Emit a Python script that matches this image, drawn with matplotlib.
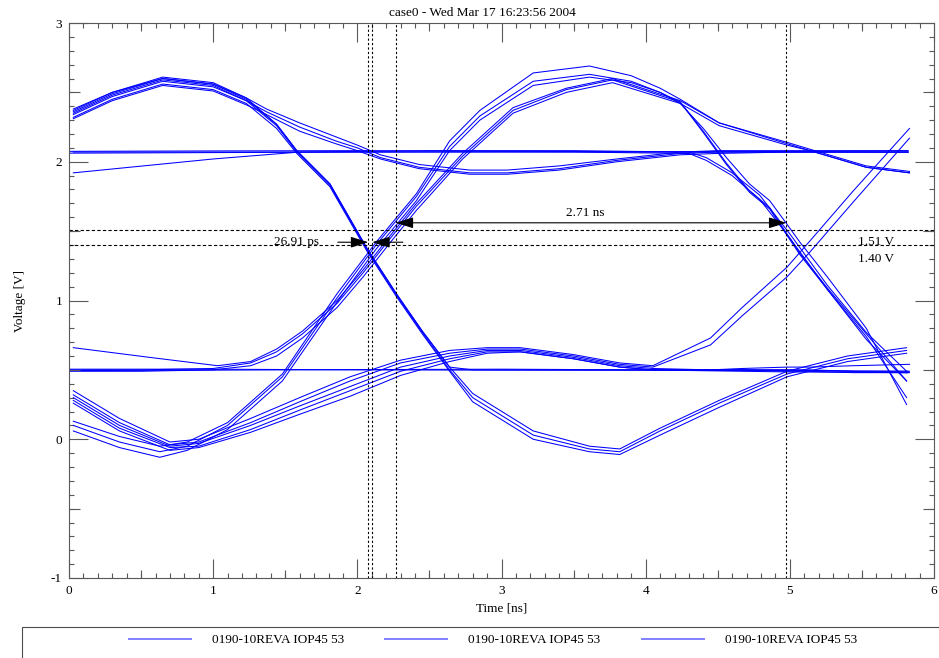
import matplotlib
matplotlib.use("Agg")
import matplotlib.pyplot as plt
from matplotlib.ticker import MultipleLocator, FuncFormatter
from matplotlib.patches import Rectangle
from matplotlib.lines import Line2D

plt.rcParams['font.family'] = ['Liberation Serif', 'DejaVu Serif']

# ---- waveform data (time in ns, voltage in V) ----
t_flat = [0.0, 1.0, 2.0, 3.0, 4.0, 5.0, 5.82]
v_hi_flat_a = [2.075, 2.078, 2.080, 2.076, 2.072, 2.070, 2.068]
v_hi_flat_b = [2.062, 2.066, 2.070, 2.072, 2.070, 2.074, 2.078]
v_lo_flat_a = [0.505, 0.505, 0.500, 0.498, 0.497, 0.495, 0.490]
v_lo_flat_b = [0.495, 0.498, 0.502, 0.505, 0.500, 0.485, 0.480]

t_hi_fall = [0.03, 1.0, 1.6, 2.5, 3.5, 4.3, 4.42, 4.6, 4.79, 5.0, 5.26, 5.53, 5.81]
v_hi_fall_a = [1.92, 2.02, 2.07, 2.08, 2.08, 2.07, 2.03, 1.92, 1.76, 1.48, 1.11, 0.77, 0.49]
v_hi_fall_b = [2.07, 2.07, 2.07, 2.07, 2.07, 2.06, 2.01, 1.90, 1.73, 1.45, 1.08, 0.72, 0.42]

t_hump1_fall = [0.03, 0.3, 0.65, 1.0, 1.23, 1.44, 1.58, 1.81, 2.07, 2.27, 2.45,
                2.64, 2.8, 3.22, 3.61, 3.82, 4.1, 4.51, 4.98, 5.4, 5.81]
v_hump1_fall_a = [2.38, 2.50, 2.61, 2.57, 2.46, 2.27, 2.08, 1.84, 1.37, 1.05, 0.78,
                  0.52, 0.33, 0.06, -0.05, -0.07, 0.08, 0.28, 0.49, 0.60, 0.66]
v_hump1_fall_b = [2.35, 2.48, 2.59, 2.55, 2.44, 2.26, 2.07, 1.83, 1.36, 1.04, 0.77,
                  0.50, 0.30, 0.03, -0.07, -0.09, 0.06, 0.26, 0.47, 0.58, 0.64]
v_hump1_fall_c = [2.32, 2.45, 2.56, 2.52, 2.42, 2.24, 2.06, 1.82, 1.35, 1.03, 0.76,
                  0.49, 0.27, 0.00, -0.09, -0.11, 0.03, 0.23, 0.45, 0.56, 0.62]
v_hump1_settle = [2.36, 2.49, 2.60, 2.56, 2.45, 2.27, 2.08, 1.84, 1.37, 1.05, 0.78,
                  0.52, 0.50, 0.50, 0.50, 0.50, 0.50, 0.50, 0.50, 0.49, 0.48]

t_hump1_gentle = [0.03, 0.3, 0.65, 1.0, 1.23, 1.37, 1.6, 1.85, 2.0, 2.16, 2.43,
                  2.78, 3.04, 3.4, 3.8, 4.24, 4.5, 5.0, 5.82]
v_hump1_gentle_a = [2.37, 2.50, 2.60, 2.56, 2.46, 2.38, 2.28, 2.18, 2.12, 2.05, 1.98,
                    1.94, 1.94, 1.97, 2.02, 2.07, 2.08, 2.08, 2.08]
v_hump1_gentle_b = [2.34, 2.47, 2.58, 2.54, 2.44, 2.36, 2.25, 2.15, 2.10, 2.03, 1.96,
                    1.92, 1.92, 1.95, 2.01, 2.06, 2.07, 2.07, 2.07]
v_hump1_gentle_c = [2.31, 2.44, 2.55, 2.51, 2.41, 2.34, 2.22, 2.13, 2.08, 2.02, 1.95,
                    1.91, 1.91, 1.94, 2.00, 2.05, 2.06, 2.07, 2.07]

t_trough_steep = [0.03, 0.35, 0.63, 0.82, 1.1, 1.48, 1.86, 2.13, 2.41, 2.64, 2.85,
                  3.22, 3.61, 3.9, 4.1, 4.24, 4.51, 4.98, 5.14, 5.53, 5.83]
v_trough_steep_a = [0.13, 0.02, -0.05, -0.02, 0.12, 0.47, 1.05, 1.42, 1.77, 2.15, 2.37,
                    2.64, 2.69, 2.62, 2.53, 2.45, 2.28, 2.14, 2.09, 1.97, 1.93]
v_trough_steep_b = [0.10, -0.02, -0.09, -0.05, 0.10, 0.45, 1.02, 1.40, 1.75, 2.11, 2.33,
                    2.58, 2.63, 2.58, 2.50, 2.42, 2.26, 2.12, 2.08, 1.96, 1.92]
t_trough_steep_c = [0.03, 0.35, 0.63, 0.82, 1.1, 1.48, 1.86, 2.13, 2.41, 2.64, 2.85,
                    3.22, 3.61, 3.9, 4.1, 4.24, 4.4, 4.56, 4.72, 4.86, 4.98, 5.07,
                    5.26, 5.53, 5.81]
v_trough_steep_c = [0.06, -0.06, -0.13, -0.08, 0.07, 0.42, 0.99, 1.37, 1.72, 2.08, 2.30,
                    2.55, 2.61, 2.57, 2.50, 2.43, 2.21, 1.98, 1.78, 1.66, 1.47, 1.33,
                    1.08, 0.74, 0.30]

t_low_start = [0.03, 0.56, 1.03, 1.26, 1.44, 1.62, 1.86, 2.04, 2.23, 2.41, 2.73,
               3.08, 3.45, 3.77, 4.24, 4.51, 4.98, 5.14, 5.53, 5.83]
v_low_start = [0.66, 0.59, 0.53, 0.56, 0.65, 0.78, 1.00, 1.22, 1.47, 1.70, 2.06,
               2.39, 2.53, 2.60, 2.44, 2.28, 2.13, 2.08, 1.96, 1.92]

t_lo_leave = [0.0, 0.5, 1.0, 1.26, 1.44, 1.62, 1.86, 2.04, 2.23, 2.41, 2.73, 3.08,
              3.45, 3.77, 4.24, 4.4, 4.56, 4.72, 4.86, 4.98, 5.07, 5.26, 5.53, 5.81]
v_lo_leave_a = [0.50, 0.50, 0.51, 0.55, 0.63, 0.76, 0.98, 1.20, 1.45, 1.68, 2.04, 2.37,
                2.52, 2.59, 2.43, 2.22, 1.99, 1.79, 1.67, 1.48, 1.34, 1.09, 0.76, 0.42]
v_lo_leave_b = [0.49, 0.49, 0.50, 0.53, 0.60, 0.73, 0.95, 1.17, 1.42, 1.65, 2.02, 2.35,
                2.50, 2.57, 2.42, 2.24, 2.03, 1.84, 1.72, 1.55, 1.42, 1.17, 0.80, 0.25]

t_trough_slow = [0.03, 0.35, 0.70, 0.90, 1.26, 1.6, 1.95, 2.3, 2.64, 2.9, 3.13,
                 3.5, 3.82, 4.05, 4.45, 4.67, 4.98, 5.14, 5.44, 5.83]
v_trough_slow_a = [0.35, 0.15, -0.02, 0.00, 0.15, 0.30, 0.45, 0.57, 0.64, 0.66, 0.66,
                   0.61, 0.55, 0.53, 0.73, 0.95, 1.24, 1.43, 1.79, 2.24]
v_trough_slow_b = [0.32, 0.12, -0.04, -0.02, 0.12, 0.27, 0.42, 0.55, 0.62, 0.65, 0.65,
                   0.60, 0.54, 0.52, 0.68, 0.89, 1.17, 1.35, 1.71, 2.17]
v_trough_slow_c = [0.30, 0.10, -0.05, -0.03, 0.10, 0.24, 0.38, 0.52, 0.60, 0.64, 0.64,
                   0.59, 0.53, 0.51, 0.50, 0.50, 0.50, 0.50, 0.49, 0.49]
v_trough_slow_d = [0.28, 0.08, -0.06, -0.05, 0.07, 0.21, 0.35, 0.49, 0.58, 0.63, 0.63,
                   0.58, 0.52, 0.50, 0.50, 0.50, 0.49, 0.49, 0.48, 0.48]
v_trough_slow_e = [0.26, 0.06, -0.08, -0.06, 0.05, 0.18, 0.31, 0.46, 0.56, 0.62, 0.63,
                   0.58, 0.52, 0.50, 0.50, 0.51, 0.52, 0.52, 0.53, 0.54]

# cursor markers
cursor_t = [2.076, 2.103, 2.266, 4.976]
cursor_v = [1.51, 1.40]
legend_labels = ['0190-10REVA IOP45 53', '0190-10REVA IOP45 53', '0190-10REVA IOP45 53']

traces = [
    (t_flat, v_hi_flat_a), (t_flat, v_hi_flat_b), (t_flat, v_lo_flat_a), (t_flat, v_lo_flat_b),
    (t_hi_fall, v_hi_fall_a), (t_hi_fall, v_hi_fall_b),
    (t_hump1_fall, v_hump1_fall_a), (t_hump1_fall, v_hump1_fall_b),
    (t_hump1_fall, v_hump1_fall_c), (t_hump1_fall, v_hump1_settle),
    (t_hump1_gentle, v_hump1_gentle_a), (t_hump1_gentle, v_hump1_gentle_b),
    (t_hump1_gentle, v_hump1_gentle_c),
    (t_trough_steep, v_trough_steep_a), (t_trough_steep, v_trough_steep_b),
    (t_trough_steep_c, v_trough_steep_c),
    (t_low_start, v_low_start), (t_lo_leave, v_lo_leave_a), (t_lo_leave, v_lo_leave_b),
    (t_trough_slow, v_trough_slow_a), (t_trough_slow, v_trough_slow_b),
    (t_trough_slow, v_trough_slow_c), (t_trough_slow, v_trough_slow_d),
    (t_trough_slow, v_trough_slow_e),
]

W, H = 939, 658
FS = 9.5
fig = plt.figure(figsize=(W / 100, H / 100), dpi=100)
ax = fig.add_axes([69 / W, 1 - 578 / H, 865 / W, 555 / H])

for t, v in traces:
    ax.plot(t, v, color='#0000ff', lw=0.75)

for tc in cursor_t:
    ax.axvline(tc, color='black', lw=0.8, ls=(0, (2, 2)))
for vc in cursor_v:
    ax.axhline(vc, color='black', lw=0.8, ls=(0, (3, 2)))

# 26.91 ps arrows
head = dict(arrowstyle='-|>,head_length=0.9,head_width=0.28', color='black', lw=0.8,
            shrinkA=0, shrinkB=0, mutation_scale=12)
ax.annotate('', xy=(cursor_t[0], 1.42), xytext=(1.865, 1.42), arrowprops=head)
ax.annotate('', xy=(cursor_t[1], 1.42), xytext=(2.316, 1.42), arrowprops=head)
ax.text(1.578, 1.42, '26.91 ps', fontsize=FS, ha='center', va='center')

# 2.71 ns arrow
ax.annotate('', xy=(cursor_t[3], 1.56), xytext=(cursor_t[2], 1.56),
            arrowprops=dict(arrowstyle='<|-|>,head_length=0.9,head_width=0.28', color='black',
                            lw=0.8, shrinkA=0, shrinkB=0, mutation_scale=12))
ax.text(3.58, 1.63, '2.71 ns', fontsize=FS, ha='center', va='center')
ax.text(5.597, 1.42, '1.51 V', fontsize=FS, ha='center', va='center')
ax.text(5.597, 1.30, '1.40 V', fontsize=FS, ha='center', va='center')

ax.set_xlim(0, 6)
ax.set_ylim(-1, 3)
ax.xaxis.set_major_locator(MultipleLocator(1))
ax.yaxis.set_major_locator(MultipleLocator(1))
ax.xaxis.set_minor_locator(MultipleLocator(0.1))
ax.yaxis.set_minor_locator(MultipleLocator(0.1))
ax.xaxis.set_major_formatter(FuncFormatter(lambda x, p: '%d' % round(x)))
ax.yaxis.set_major_formatter(FuncFormatter(lambda x, p: '%d' % round(x)))
ax.tick_params(which='both', direction='in', top=True, right=True, color='0.35',
               labelsize=FS, width=0.8)
ax.tick_params(which='major', length=14)
ax.tick_params(which='minor', length=3.3)
ax.tick_params(axis='x', pad=5)
ax.tick_params(axis='y', pad=5)

# medium ticks at the half units
xt = ax.get_xaxis_transform()
yt = ax.get_yaxis_transform()
halves_x = [0.5, 1.5, 2.5, 3.5, 4.5, 5.5]
halves_y = [-0.5, 0.5, 1.5, 2.5]
ax.vlines(halves_x, 0, 0.015, transform=xt, color='0.35', lw=0.8, clip_on=False)
ax.vlines(halves_x, 0.985, 1, transform=xt, color='0.35', lw=0.8, clip_on=False)
ax.hlines(halves_y, 0, 0.0125, transform=yt, color='0.35', lw=0.8, clip_on=False)
ax.hlines(halves_y, 0.9875, 1, transform=yt, color='0.35', lw=0.8, clip_on=False)

for sp in ax.spines.values():
    sp.set_color('0.35')
    sp.set_linewidth(0.8)

ax.set_xlabel('Time [ns]', fontsize=FS)
ax.set_ylabel('Voltage [V]', fontsize=FS)
ax.xaxis.set_label_coords(0.5, -0.044)
ax.yaxis.set_label_coords(-0.050, 0.5)

fig.text(482 / W, 1 - 13 / H, 'case0 - Wed Mar 17 16:23:56 2004', fontsize=FS,
         ha='center', va='center')

# legend box running off the page
fig.add_artist(Rectangle((22 / W, -0.05), 1.0, 0.05 + 1 - 627 / H, transform=fig.transFigure,
                         fill=False, edgecolor='0.3', lw=0.8))
handles = [Line2D([], [], color='#8080ff', lw=1.4) for _ in legend_labels]
fig.legend(handles, legend_labels, ncol=3, loc='center',
           bbox_to_anchor=(493 / W, 1 - 640 / H), frameon=False, fontsize=FS,
           handlelength=4.7, handletextpad=1.6, columnspacing=3.1)

fig.savefig('out.png', dpi=100)
